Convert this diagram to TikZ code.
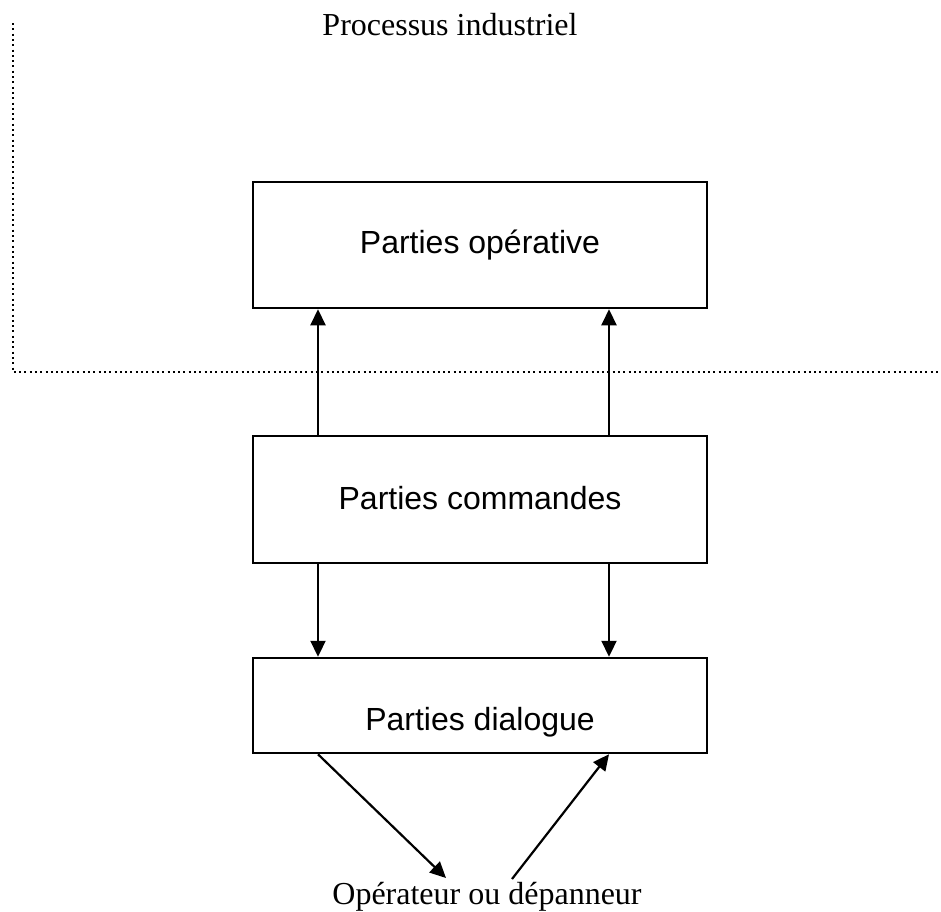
\documentclass[tikz,border=0pt]{standalone}
\usepackage{fontspec}
\setmainfont{Liberation Serif}
\newfontfamily\arialfont{Liberation Sans}
\usetikzlibrary{arrows.meta}
\begin{document}
\begin{tikzpicture}[x=1pt,y=-1pt,
  box/.style={draw,line width=2.5pt,rectangle,inner sep=0pt,minimum width=454pt},
  boxtext/.style={anchor=base,inner sep=0pt,font=\arialfont\fontsize{32}{38}\selectfont},
  sertext/.style={anchor=base,inner sep=0pt,font=\fontsize{32}{38}\selectfont},
  arr/.style={line width=2.2pt,-{Triangle[length=16pt,width=15pt]}},
  dotline/.style={line width=2pt,dash pattern=on 2pt off 3.3pt}]
\useasboundingbox (0,0) rectangle (941,911);
% boxes
\node[box,minimum height=126pt] (op)  at (480,245) {};
\node[box,minimum height=127pt] (cmd) at (480,499.5) {};
\node[box,minimum height=95pt]  (dia) at (480,705.5) {};
% texts
\node[boxtext] (opt)  at (480,253) {Parties opérative};
\node[boxtext] (cmdt) at (480,509) {Parties commandes};
\node[boxtext] (diat) at (480,730) {Parties dialogue};
\node[sertext] (proc) at (450,35) {Processus industriel};
\node[sertext] (oper) at (487,904) {Opérateur ou dépanneur};
% dotted boundary
\coordinate (d1) at (13,23);
\coordinate (d2) at (13,372);
\coordinate (d3) at (941,372);
\draw[dotline] (d1) -- (d2) -- (d3);
% vertical arrows
\coordinate (xa) at (318,0);
\coordinate (xb) at (609,0);
\draw[arr] (xa |- cmd.north) -- (xa |- op.south);
\draw[arr] (xb |- cmd.north) -- (xb |- op.south);
\draw[arr] (xa |- cmd.south) -- (xa |- dia.north);
\draw[arr] (xb |- cmd.south) -- (xb |- dia.north);
% operator arrows
\coordinate (t1) at (446,878);
\coordinate (t2) at (512,879);
\draw[arr] (xa |- dia.south) -- (t1);
\draw[arr] (t2) -- (xb |- dia.south);
\end{tikzpicture}
\end{document}
